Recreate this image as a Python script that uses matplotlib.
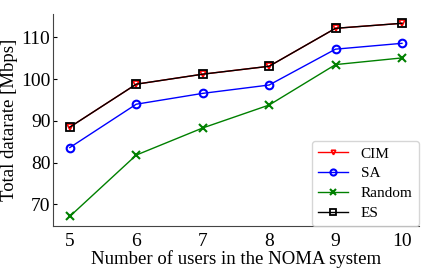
import numpy as np
import matplotlib.pyplot as plt

plt.rcParams['font.family'] = ['Liberation Serif', 'DejaVu Serif']

users = [5, 6, 7, 8, 9, 10]
cim = [88.5, 98.8, 101.2, 103.1, 112.2, 113.4]
sa = [83.6, 94.0, 96.6, 98.6, 107.2, 108.6]
rnd = [67.1, 81.8, 88.3, 93.8, 103.5, 105.1]
es = [88.5, 98.8, 101.2, 103.1, 112.2, 113.4]

fig, ax = plt.subplots(figsize=(4.36, 2.73), dpi=100)

ax.plot(users, cim, color='red', marker='v', ms=4, mfc='none', mew=1.2, lw=1.0, label='CIM', zorder=2)
ax.plot(users, sa, color='blue', marker='o', ms=5.5, mfc='none', mew=1.5, lw=1.0, label='SA')
ax.plot(users, rnd, color='green', marker='x', ms=5.5, mew=1.5, lw=1.0, label='Random')
ax.plot(users, es, color='black', marker='s', ms=6, mfc='none', mew=1.3, lw=1.0, label='ES', zorder=3)

ax.set_xticks(users)
ax.set_yticks([70, 80, 90, 100, 110])
ax.set_xlabel('Number of users in the NOMA system', fontsize=13.5, labelpad=0)
ax.set_ylabel('Total datarate [Mbps]', fontsize=13.5, labelpad=2)
ax.tick_params(labelsize=14, direction='in', length=3, pad=2)
ax.tick_params(axis='x', length=0, pad=5)
for s in ['top', 'right']:
    ax.spines[s].set_visible(False)
for s in ['left', 'bottom']:
    ax.spines[s].set_color('#444444')

ax.legend(loc='lower right', fontsize=11, borderaxespad=0.0, handlelength=2.0,
          markerscale=0.8, labelspacing=0.4)

fig.subplots_adjust(left=0.122, right=0.96, top=0.95, bottom=0.172)
fig.savefig('out.png', dpi=100)
